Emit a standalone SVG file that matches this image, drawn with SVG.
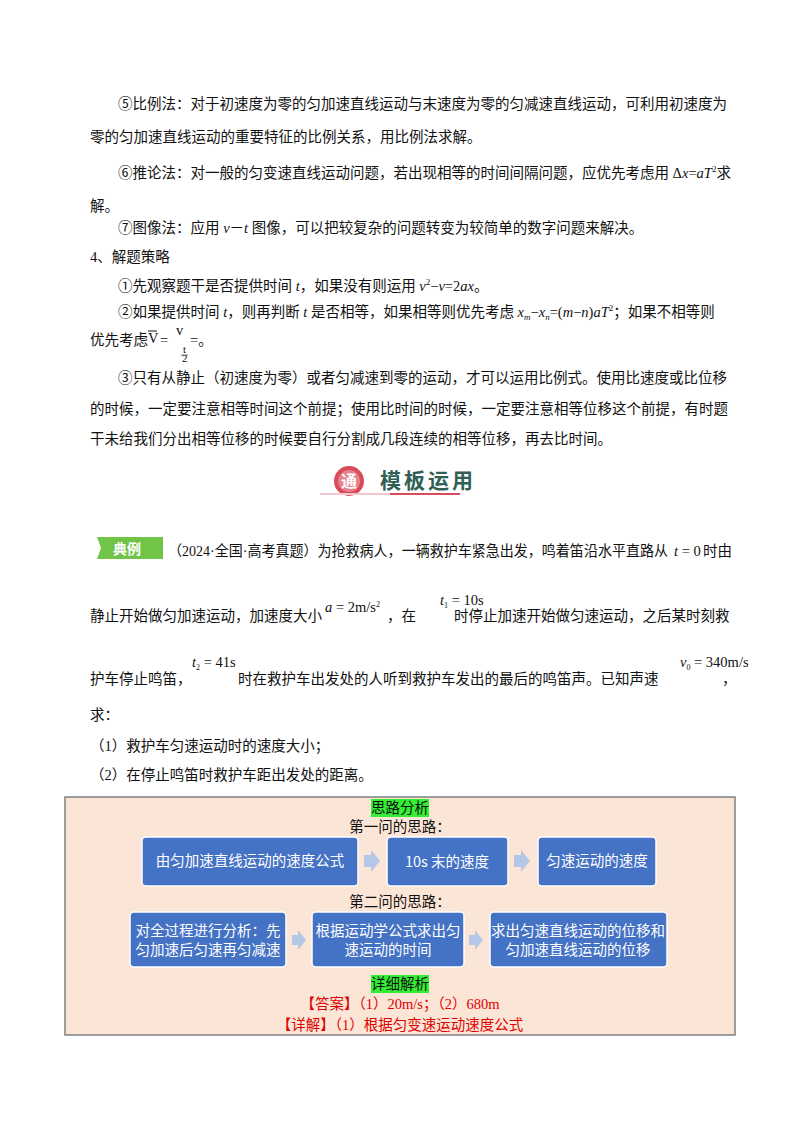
<svg xmlns="http://www.w3.org/2000/svg" width="800" height="1132" viewBox="0 0 800 1132">
<style>
.t{font-family:"Liberation Serif","Noto Sans CJK SC",serif;font-size:14.5px;fill:#111}
.i{font-style:italic}
.b{fill:#4472c4;stroke:#fff;stroke-width:1.5}
.w{font-family:"Noto Sans CJK SC",sans-serif;font-size:14.5px;fill:#fff;text-anchor:middle}
.a{fill:#b4c7e7}
.r{font-family:"Liberation Serif","Noto Sans CJK SC",serif;font-size:14.5px;fill:#e00000;text-anchor:middle}
.c{font-family:"Liberation Serif","Noto Sans CJK SC",serif;font-size:14.5px;fill:#111;text-anchor:middle}
.g{fill:#33ee33}
.s{font-family:"Liberation Serif",serif;font-size:11px;fill:#111}
</style>
<rect width="800" height="1132" fill="#fff"/>
<text class="t" x="118" y="109">⑤比例法：对于初速度为零的匀加速直线运动与末速度为零的匀减速直线运动，可利用初速度为</text>
<text class="t" x="90" y="142">零的匀加速直线运动的重要特征的比例关系，用比例法求解。</text>
<text class="t" x="118" y="178">⑥推论法：对一般的匀变速直线运动问题，若出现相等的时间间隔问题，应优先考虑用 Δ<tspan class="i">x</tspan>=<tspan class="i">aT</tspan><tspan font-size="9" dy="-6">2</tspan><tspan dy="6">求</tspan></text>
<text class="t" x="90" y="211">解。</text>
<text class="t" x="118" y="233">⑦图像法：应用 <tspan class="i">v</tspan>－<tspan class="i">t</tspan> 图像，可以把较复杂的问题转变为较简单的数字问题来解决。</text>
<text class="t" x="90" y="262">4、解题策略</text>
<text class="t" x="118" y="291">①先观察题干是否提供时间 <tspan class="i">t</tspan>，如果没有则运用 <tspan class="i">v</tspan><tspan font-size="9" dy="-6">2</tspan><tspan dy="6">−</tspan><tspan class="i">v</tspan>=2<tspan class="i">ax</tspan>。</text>
<text class="t" x="118" y="317">②如果提供时间 <tspan class="i">t</tspan>，则再判断 <tspan class="i">t</tspan> 是否相等，如果相等则优先考虑 <tspan class="i">x</tspan><tspan font-size="9" dy="3" class="i">m</tspan><tspan dy="-3">−</tspan><tspan class="i">x</tspan><tspan font-size="9" dy="3" class="i">n</tspan><tspan dy="-3">=(</tspan><tspan class="i">m</tspan>−<tspan class="i">n</tspan>)<tspan class="i">aT</tspan><tspan font-size="9" dy="-6">2</tspan><tspan dy="6">；如果不相等则</tspan></text>
<text class="t" x="90" y="345">优先考虑</text>
<text class="t" x="148" y="343" font-family="Liberation Sans">V</text>
<line x1="148" y1="331" x2="157" y2="331" stroke="#111" stroke-width="1"/>
<text class="t" x="160" y="345">=</text>
<text class="t" x="176" y="335">v</text>
<text class="s" x="183" y="353" font-size="7">t</text>
<line x1="181" y1="355" x2="188" y2="355" stroke="#111" stroke-width="0.6"/>
<text class="s" x="182" y="362" font-size="7">2</text>
<text class="t" x="190" y="345">=。</text>
<text class="t" x="118" y="383">③只有从静止（初速度为零）或者匀减速到零的运动，才可以运用比例式。使用比速度或比位移</text>
<text class="t" x="90" y="414">的时候，一定要注意相等时间这个前提；使用比时间的时候，一定要注意相等位移这个前提，有时题</text>
<text class="t" x="90" y="444">干未给我们分出相等位移的时候要自行分割成几段连续的相等位移，再去比时间。</text>
<g id="banner">
<circle cx="349" cy="481" r="15" fill="#d94b5a"/>
<circle cx="349" cy="481" r="11" fill="#fff" opacity="0.3"/>
<text x="349" y="487" font-family="Noto Sans CJK SC,serif" font-size="16" font-weight="bold" fill="#fff" text-anchor="middle">通</text>
<text x="380" y="488" font-family="Noto Sans CJK SC,serif" font-size="21" font-weight="bold" fill="#2f5f55" letter-spacing="3">模板运用</text>
<line x1="320" y1="494" x2="392" y2="494" stroke="#f3c9cf" stroke-width="2"/>
<line x1="390" y1="494" x2="460" y2="494" stroke="#d94b5a" stroke-width="2"/>
</g>
<g id="label">
<path d="M97,537 h66 v22 h-66 l4,-11 z" fill="#70c447"/>
<text x="127" y="554" font-family="Noto Sans CJK SC,serif" font-size="14" font-weight="bold" fill="#fff" text-anchor="middle">典例</text>
</g>
<text class="t" x="168" y="556" textLength="500" lengthAdjust="spacingAndGlyphs">（2024·全国·高考真题）为抢救病人，一辆救护车紧急出发，鸣着笛沿水平直路从</text>
<text class="t" x="674" y="556" font-size="13"><tspan class="i">t</tspan> = 0</text>
<text class="t" x="703" y="556">时由</text>
<text class="t" x="90" y="621">静止开始做匀加速运动，加速度大小</text>
<text class="t" x="325" y="612" font-size="13"><tspan class="i">a</tspan> = 2m/s<tspan font-size="8" dy="-5">2</tspan></text>
<text class="t" x="387" y="621">，在</text>
<text class="t" x="440" y="605" font-size="13"><tspan class="i">t</tspan><tspan font-size="8" dy="3">1</tspan><tspan dy="-3"> = 10s</tspan></text>
<text class="t" x="454" y="621">时停止加速开始做匀速运动，之后某时刻救</text>
<text class="t" x="90" y="684">护车停止鸣笛，</text>
<text class="t" x="192" y="667" font-size="13"><tspan class="i">t</tspan><tspan font-size="8" dy="3">2</tspan><tspan dy="-3"> = 41s</tspan></text>
<text class="t" x="238" y="684">时在救护车出发处的人听到救护车发出的最后的鸣笛声。已知声速</text>
<text class="t" x="680" y="667" font-size="13"><tspan class="i">v</tspan><tspan font-size="8" dy="3">0</tspan><tspan dy="-3"> = 340m/s</tspan></text>
<text class="t" x="722" y="684">，</text>
<text class="t" x="90" y="720">求：</text>
<text class="t" x="90" y="751">（1）救护车匀速运动时的速度大小；</text>
<text class="t" x="90" y="780">（2）在停止鸣笛时救护车距出发处的距离。</text>
<rect x="65" y="797" width="670" height="238" fill="#fbe5d6" stroke="#7f7f7f" stroke-width="1.5"/>
<rect class="g" x="371" y="799" width="58" height="18"/>
<text class="c" x="400" y="813">思路分析</text>
<text class="c" x="400" y="832">第一问的思路：</text>
<g id="n1"><rect class="b" x="142" y="837" width="216" height="49" rx="4"/><text class="w" x="250" y="866">由匀加速直线运动的速度公式</text></g>
<g id="n2"><rect class="b" x="387" y="837" width="121" height="49" rx="4"/><text class="w" x="447" y="867" font-family="Liberation Sans,Noto Sans CJK SC,sans-serif">10s 末的速度</text></g>
<g id="n3"><rect class="b" x="538" y="837" width="118" height="49" rx="4"/><text class="w" x="597" y="866">匀速运动的速度</text></g>
<text class="c" x="400" y="907">第二问的思路：</text>
<g id="n4"><rect class="b" x="130" y="912" width="156" height="55" rx="4"/><text class="w" x="208" y="936">对全过程进行分析：先</text><text class="w" x="208" y="955">匀加速后匀速再匀减速</text></g>
<g id="n5"><rect class="b" x="312" y="912" width="152" height="55" rx="4"/><text class="w" x="388" y="936">根据运动学公式求出匀</text><text class="w" x="388" y="955">速运动的时间</text></g>
<g id="n6"><rect class="b" x="490" y="912" width="177" height="55" rx="4"/><text class="w" x="578" y="936">求出匀速直线运动的位移和</text><text class="w" x="578" y="955">匀加速直线运动的位移</text></g>
<g id="connectors">
<path class="a" d="M364,855 h7 v-5 l9,11 l-9,11 v-5 h-7 z"/>
<path class="a" d="M514,855 h7 v-5 l9,11 l-9,11 v-5 h-7 z"/>
<path class="a" d="M292,935 h6 v-5 l8,10 l-8,10 v-5 h-6 z"/>
<path class="a" d="M469,935 h6 v-5 l8,10 l-8,10 v-5 h-6 z"/>
</g>
<rect class="g" x="371" y="975" width="58" height="18"/>
<text class="c" x="400" y="989">详细解析</text>
<text class="r" x="400" y="1009">【答案】（1）20m/s；（2）680m</text>
<text class="r" x="400" y="1030">【详解】（1）根据匀变速运动速度公式</text>
</svg>
